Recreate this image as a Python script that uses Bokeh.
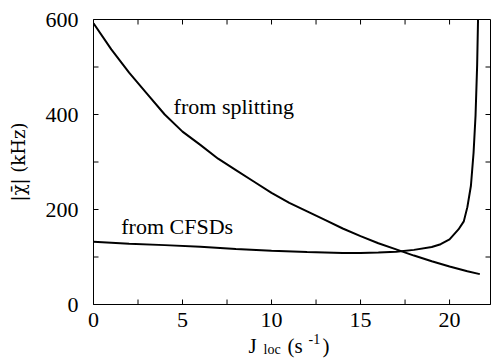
import math
from bokeh.plotting import figure
from bokeh.layouts import column
from bokeh.models import Range1d, SingleIntervalTicker, Label
from bokeh.embed import file_html
from bokeh.resources import INLINE

# ---- data ----
j_split = [0, 1, 2, 3, 4, 5, 6, 7, 8, 9, 10, 11, 12, 13, 14, 15, 16, 17, 18, 19, 20, 21, 21.7]
chi_split = [592, 537, 488, 444, 400, 364, 336, 307, 283, 259, 235, 214, 196, 178, 160,
             144, 129, 116, 103, 91, 80, 70, 64]

j_cfsd = [0, 2, 4, 6, 8, 10, 12, 14, 15, 16, 17, 18, 19, 19.5, 20, 20.5, 20.8, 21.0,
          21.2, 21.35, 21.46, 21.55, 21.6]
chi_cfsd = [132, 128, 125, 121.5, 117, 113, 110.5, 108.5, 108.5, 109.5, 111, 115, 121,
            127, 137, 158, 175, 205, 250, 320, 398, 504, 600]

x_ticks = [0, 5, 10, 15, 20]
x_minor = [2.5, 7.5, 12.5, 17.5]
y_ticks = [0, 200, 400, 600]
y_minor = [100, 300, 500]

XMAX, YMAX = 22.3, 600
W = 493
LEFT, RIGHT, TOP, BOTTOM = 93, 490, 19, 304   # frame edges on the page
PH = 333                                        # height of the main figure
FONT = "Liberation Serif"
FS = "22px"
FS_TITLE = "21px"
FS_SMALL = "14px"
SHIFT = 6    # px: baseline correction for labels in the main plot
QSHIFT = 10  # px: baseline correction for texts in the strip below

# ---------------- main plot ----------------
p = figure(width=W, height=PH, output_backend="svg", toolbar_location=None,
           x_range=Range1d(0, XMAX), y_range=Range1d(0, YMAX),
           min_border_left=LEFT, min_border_right=W - RIGHT, min_border_top=TOP,
           min_border_bottom=PH - BOTTOM, background_fill_color="white",
           border_fill_color="white")
p.grid.visible = False
p.outline_line_color = "black"
p.outline_line_width = 1

p.line(j_split, chi_split, line_color="black", line_width=2)
p.line(j_cfsd, chi_cfsd, line_color="black", line_width=2)

# inward ticks on all four sides
xt_all = sorted(x_ticks + x_minor)
yt_all = sorted(y_ticks + y_minor)
tk = dict(length=5, length_units="screen", line_color="black", line_width=1)
p.ray(x=xt_all, y=[0] * len(xt_all), angle=math.pi / 2, **tk)
p.ray(x=xt_all, y=[YMAX] * len(xt_all), angle=-math.pi / 2, **tk)
p.ray(x=[0] * len(yt_all), y=yt_all, angle=0, **tk)
p.ray(x=[XMAX] * len(yt_all), y=yt_all, angle=math.pi, **tk)

for ax in (p.xaxis[0], p.yaxis[0]):
    ax.axis_line_color = "black"
    ax.major_tick_in = 0
    ax.major_tick_out = 0
    ax.minor_tick_line_color = None
    ax.major_label_text_font = FONT
    ax.major_label_text_font_size = FS
    ax.major_label_text_color = "black"

p.xaxis.ticker = SingleIntervalTicker(interval=5)
p.xaxis.major_label_standoff = 4
p.yaxis.ticker = SingleIntervalTicker(interval=200)
p.yaxis.major_label_standoff = 11

ay = p.yaxis[0]
ay.axis_label = "|\u03c7\u0304| (kHz)"
ay.axis_label_text_font = "DejaVu Serif"
ay.axis_label_text_font_size = "18px"
ay.axis_label_text_font_style = "normal"
ay.axis_label_text_color = "black"
ay.axis_label_standoff = 14

PX_PER_Y = (BOTTOM - TOP) / YMAX


def lab(fig, x, y, t, size=FS):
    fig.add_layout(Label(x=x, y=y, text=t, text_font=FONT, text_font_size=size,
                         text_color="black", text_baseline="alphabetic",
                         text_align="left"))


lab(p, 4.5, 405 + SHIFT / PX_PER_Y, "from splitting")
lab(p, 1.56, 151 + SHIFT / PX_PER_Y, "from CFSDs")

# ------------- strip below: x axis title J_loc (s^-1) -------------
QH = 362 - PH
q = figure(width=W, height=QH, output_backend="svg", toolbar_location=None,
           x_range=p.x_range, y_range=Range1d(QH, 0),
           min_border_left=LEFT, min_border_right=W - RIGHT, min_border_top=0,
           min_border_bottom=0, x_axis_type=None, y_axis_type=None,
           background_fill_color="white", border_fill_color="white")
q.grid.visible = False
q.outline_line_color = None


def qy(page_y):
    """page y of a text baseline -> y in the strip (pixels from strip top)"""
    return page_y - PH - QSHIFT


lab(q, 8.71, qy(355), "J", FS_TITLE)
lab(q, 9.55, qy(359), "loc", FS_SMALL)
lab(q, 10.9, qy(355), "(s", FS_TITLE)
lab(q, 12.08, qy(348), "-1", FS_SMALL)
lab(q, 12.87, qy(355), ")", FS_TITLE)

layout = column(p, q, spacing=0)
open("out.html", "w").write(file_html(layout, INLINE))
